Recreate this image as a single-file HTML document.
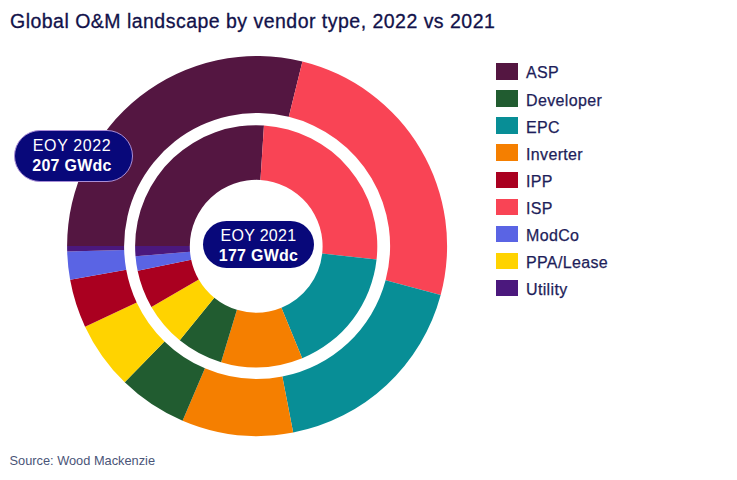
<!DOCTYPE html>
<html><head><meta charset="utf-8"><style>
html,body{margin:0;padding:0;background:#fff;}
body{width:737px;height:480px;position:relative;overflow:hidden;font-family:"Liberation Sans",sans-serif;}
.donut{position:absolute;left:0;top:0;}
.title{position:absolute;left:10px;top:8.7px;font-size:19.5px;letter-spacing:0.48px;color:#12124a;white-space:nowrap;line-height:24px;-webkit-text-stroke:0.3px #12124a;}
.src{position:absolute;left:9.5px;top:453px;font-size:12.8px;color:#4a5578;white-space:nowrap;line-height:16px;}
.sq{position:absolute;left:495.8px;width:22.5px;height:16.8px;}
.lt{position:absolute;left:526px;font-size:16px;letter-spacing:0.35px;line-height:20px;color:#1e1e5a;-webkit-text-stroke:0.25px #1e1e5a;white-space:nowrap;}
.pill{position:absolute;background:#08087a;border-radius:26px;color:#fff;text-align:center;font-size:16px;line-height:20px;box-sizing:border-box;}
.pill b{font-weight:bold;letter-spacing:0.25px;}
</style></head><body>
<div class="title">Global O&amp;M landscape by vendor type, 2022 vs 2021</div>
<svg class="donut" width="737" height="480" viewBox="0 0 737 480">
<path d="M67.10,246.00A190.0,190.0 0 0 1 302.40,61.48L288.81,116.84A133.0,133.0 0 0 0 124.10,246.00Z" fill="#541641"/>
<path d="M302.40,61.48A190.0,190.0 0 0 1 440.66,295.03L385.60,280.32A133.0,133.0 0 0 0 288.81,116.84Z" fill="#f94455"/>
<path d="M440.66,295.03A190.0,190.0 0 0 1 293.16,432.55L282.34,376.58A133.0,133.0 0 0 0 385.60,280.32Z" fill="#088e96"/>
<path d="M293.16,432.55A190.0,190.0 0 0 1 182.57,420.77L204.93,368.34A133.0,133.0 0 0 0 282.34,376.58Z" fill="#f57f00"/>
<path d="M182.57,420.77A190.0,190.0 0 0 1 124.75,382.32L164.46,341.43A133.0,133.0 0 0 0 204.93,368.34Z" fill="#215c30"/>
<path d="M124.75,382.32A190.0,190.0 0 0 1 85.06,326.63L136.67,302.44A133.0,133.0 0 0 0 164.46,341.43Z" fill="#ffd300"/>
<path d="M85.06,326.63A190.0,190.0 0 0 1 70.14,279.85L126.23,269.69A133.0,133.0 0 0 0 136.67,302.44Z" fill="#aa0020"/>
<path d="M70.14,279.85A190.0,190.0 0 0 1 67.18,251.62L124.16,249.93A133.0,133.0 0 0 0 126.23,269.69Z" fill="#5a64e4"/>
<path d="M67.18,251.62A190.0,190.0 0 0 1 67.10,246.00L124.10,246.00A133.0,133.0 0 0 0 124.16,249.93Z" fill="#4b187d"/>
<path d="M135.10,245.93A121.1,121.1 0 0 1 263.96,125.40L260.45,179.99A66.4,66.4 0 0 0 189.80,246.07Z" fill="#541641"/>
<path d="M263.96,125.40A121.1,121.1 0 0 1 376.56,259.60L322.20,253.57A66.4,66.4 0 0 0 260.45,179.99Z" fill="#f94455"/>
<path d="M376.56,259.60A121.1,121.1 0 0 1 302.21,358.27L281.43,307.67A66.4,66.4 0 0 0 322.20,253.57Z" fill="#088e96"/>
<path d="M302.21,358.27A121.1,121.1 0 0 1 221.06,362.14L236.93,309.79A66.4,66.4 0 0 0 281.43,307.67Z" fill="#f57f00"/>
<path d="M221.06,362.14A121.1,121.1 0 0 1 179.74,340.16L214.27,297.74A66.4,66.4 0 0 0 236.93,309.79Z" fill="#215c30"/>
<path d="M179.74,340.16A121.1,121.1 0 0 1 151.39,306.91L198.73,279.51A66.4,66.4 0 0 0 214.27,297.74Z" fill="#ffd300"/>
<path d="M151.39,306.91A121.1,121.1 0 0 1 137.61,270.78L191.18,259.70A66.4,66.4 0 0 0 198.73,279.51Z" fill="#aa0020"/>
<path d="M137.61,270.78A121.1,121.1 0 0 1 135.52,256.31L190.03,251.76A66.4,66.4 0 0 0 191.18,259.70Z" fill="#5a64e4"/>
<path d="M135.52,256.31A121.1,121.1 0 0 1 135.10,245.93L189.80,246.07A66.4,66.4 0 0 0 190.03,251.76Z" fill="#4b187d"/>
</svg>
<div class="pill" style="left:14px;top:129.5px;width:119px;height:52px;padding-top:5.3px;border:1.8px solid #a98ed6;letter-spacing:0.6px;padding-right:3px;">EOY 2022<br><b>207 GWdc</b></div>
<div class="pill" style="left:203px;top:220.6px;width:111px;height:47.6px;padding-top:5.8px;letter-spacing:0.3px;">EOY 2021<br><b>177 GWdc</b></div>
<div class="sq" style="top:63.40px;background:#541641"></div><div class="lt" style="top:63.00px">ASP</div>
<div class="sq" style="top:90.43px;background:#215c30"></div><div class="lt" style="top:90.83px">Developer</div>
<div class="sq" style="top:117.46px;background:#088e96"></div><div class="lt" style="top:117.86px">EPC</div>
<div class="sq" style="top:144.49px;background:#f57f00"></div><div class="lt" style="top:144.89px">Inverter</div>
<div class="sq" style="top:171.52px;background:#aa0020"></div><div class="lt" style="top:171.92px">IPP</div>
<div class="sq" style="top:198.55px;background:#f94455"></div><div class="lt" style="top:198.95px">ISP</div>
<div class="sq" style="top:225.58px;background:#5a64e4"></div><div class="lt" style="top:225.98px">ModCo</div>
<div class="sq" style="top:252.61px;background:#ffd300"></div><div class="lt" style="top:253.01px">PPA/Lease</div>
<div class="sq" style="top:279.64px;background:#4b187d"></div><div class="lt" style="top:280.04px">Utility</div>
<div class="src">Source: Wood Mackenzie</div>
</body></html>
